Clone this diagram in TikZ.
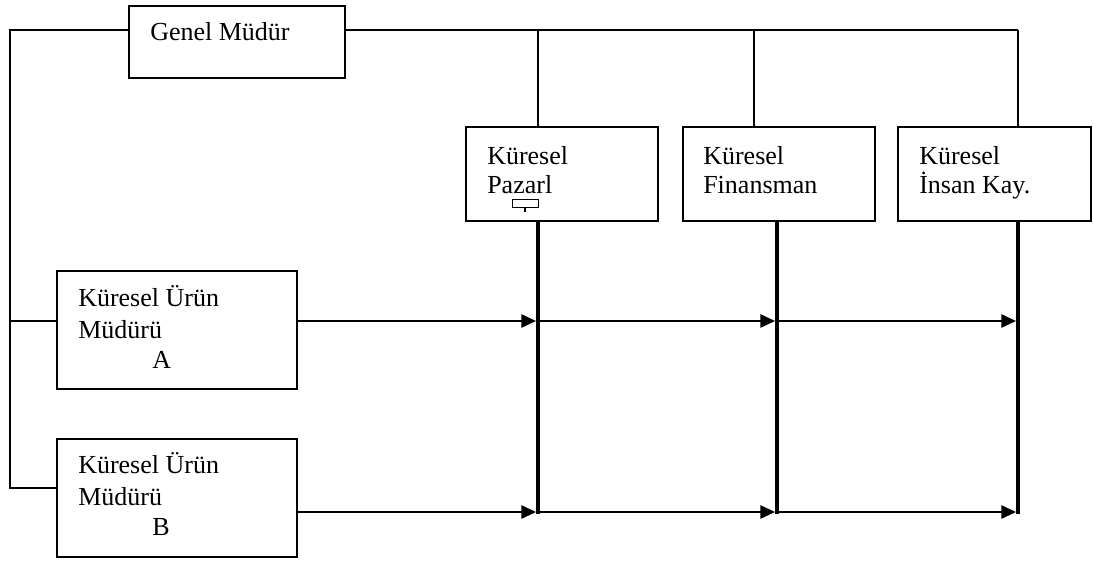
\documentclass[tikz,border=0pt]{standalone}
\usepackage{fontspec}
\setmainfont{Liberation Serif}
\usetikzlibrary{arrows.meta}
\begin{document}
\begin{tikzpicture}[x=0.75pt,y=-0.75pt,
  box/.style={draw,line width=1.1pt,rectangle,inner sep=0pt},
  lbl/.style={anchor=base west,inner sep=0pt,font=\fontsize{19.5}{23}\selectfont},
  thin/.style={line width=1.2pt},
  thickline/.style={line width=3pt},
  arr/.style={line width=1.2pt,-{Triangle[length=11pt,width=10pt]},shorten >=1.5pt}]
\useasboundingbox (0,0) rectangle (1094,563);
% boxes
\node[box,minimum width=162pt,minimum height=54pt] (gm) at (237,42) {};
\node[box,minimum width=180pt,minimum height=88.5pt] (pa) at (177,330) {};
\node[box,minimum width=180pt,minimum height=88.5pt] (pb) at (177,498) {};
\node[box,minimum width=144pt,minimum height=70.5pt] (pz) at (562,174) {};
\node[box,minimum width=144pt,minimum height=70.5pt] (fn) at (779,174) {};
\node[box,minimum width=144.75pt,minimum height=70.5pt] (ik) at (994.5,174) {};
% labels
\node[lbl] (tgm) at (150,41) {Genel Müdür};
\node[lbl] (ta1) at (78,306) {Küresel Ürün};
\node[lbl] (ta2) at (78,338) {Müdürü};
\node[lbl] (ta3) at (152,368) {A};
\node[lbl] (tb1) at (78,473) {Küresel Ürün};
\node[lbl] (tb2) at (78,505) {Müdürü};
\node[lbl] (tb3) at (152,535) {B};
\node[lbl] (tp1) at (487,164) {Küresel};
\node[lbl] (tp2) at (487,193) {Pazarl};
\node[lbl] (tf1) at (703,164) {Küresel};
\node[lbl] (tf2) at (703,193) {Finansman};
\node[lbl] (ti1) at (919,164) {Küresel};
\node[lbl] (ti2) at (919,193) {İnsan Kay.};
% tiny marker in Pazarl box
\node[draw,line width=0.7pt,minimum width=19.5pt,minimum height=6.5pt,inner sep=0pt] (tiny) at (525,203.5) {};
\coordinate (tinyend) at (525,212);
\draw[line width=1.5pt] (tiny.south) -- (tinyend);
% helper coordinates
\coordinate (yl) at (0,30);
\coordinate (ya) at (0,321);
\coordinate (yb) at (0,488);
\coordinate (yc) at (0,512);
\coordinate (yend) at (0,514);
\coordinate (cL) at (10,0);
\coordinate (c1) at (538,0);
\coordinate (c2t) at (754,0);
\coordinate (c2) at (777,0);
\coordinate (c3) at (1018,0);
% left trunk
\draw[thin] (gm.west |- yl) -- (cL |- yl) -- (cL |- yb) -- (pb.west |- yb);
\draw[thin] (cL |- ya) -- (pa.west |- ya);
% top line and drops
\draw[thin] (gm.east |- yl) -- (c3 |- yl);
\draw[thin] (c1 |- yl) -- (c1 |- pz.north);
\draw[thin] (c2t |- yl) -- (c2t |- fn.north);
\draw[thin] (c3 |- yl) -- (c3 |- ik.north);
% thick verticals
\draw[thickline] (c1 |- pz.south) -- (c1 |- yend);
\draw[thickline] (c2 |- fn.south) -- (c2 |- yend);
\draw[thickline] (c3 |- ik.south) -- (c3 |- yend);
% arrows row A
\draw[arr] (pa.east |- ya) -- (c1 |- ya);
\draw[arr] (c1 |- ya) -- (c2 |- ya);
\draw[arr] (c2 |- ya) -- (c3 |- ya);
% arrows row B
\draw[arr] (pb.east |- yc) -- (c1 |- yc);
\draw[arr] (c1 |- yc) -- (c2 |- yc);
\draw[arr] (c2 |- yc) -- (c3 |- yc);
\end{tikzpicture}
\end{document}
